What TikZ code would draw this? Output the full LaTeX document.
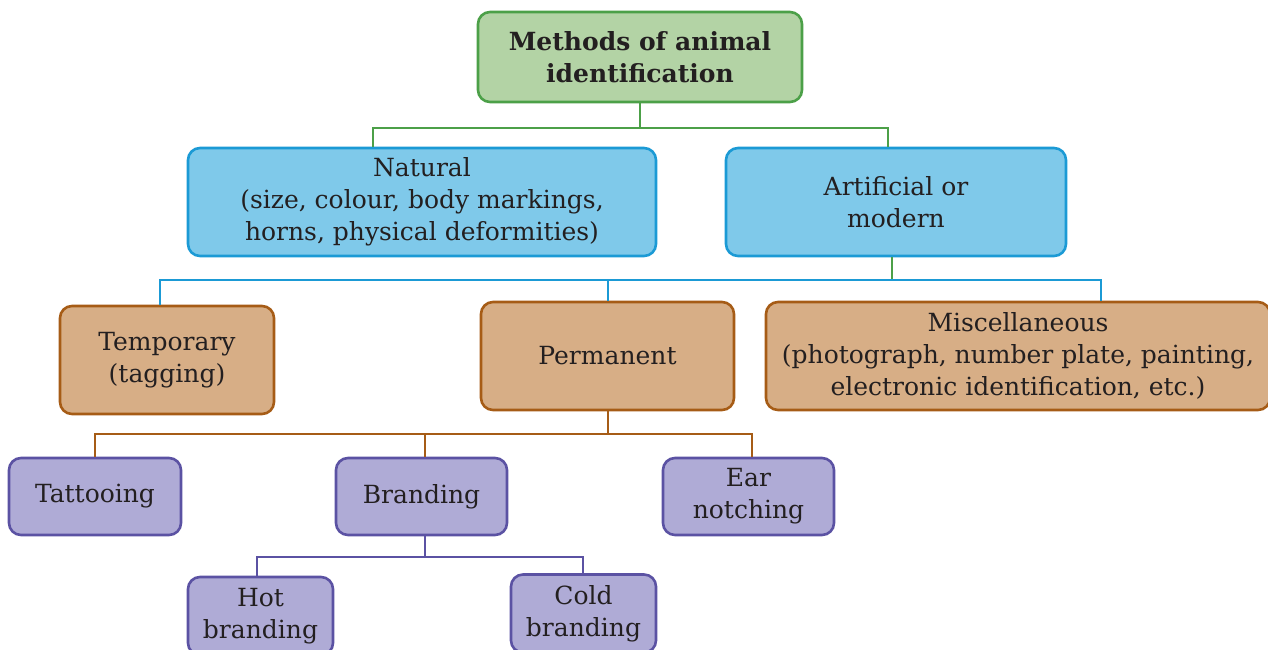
\documentclass[tikz,border=0pt]{standalone}
\usepackage{fontspec}
\setmainfont{DejaVu Serif}
\usetikzlibrary{calc}
\definecolor{gfill}{HTML}{B3D3A5}
\definecolor{gdraw}{HTML}{4CA048}
\definecolor{bfill}{HTML}{7FC9EA}
\definecolor{bdraw}{HTML}{1B9AD5}
\definecolor{tfill}{HTML}{D7AE86}
\definecolor{tdraw}{HTML}{A65C16}
\definecolor{pfill}{HTML}{AFABD6}
\definecolor{pdraw}{HTML}{5B52A3}
\definecolor{txt}{HTML}{231F20}
\tikzset{
  box/.style={rounded corners=12pt, line width=2.6pt, align=center, inner sep=0pt,
    text=txt, font=\fontsize{25}{32}\selectfont},
  gbox/.style={box, fill=gfill, draw=gdraw},
  bbox/.style={box, fill=bfill, draw=bdraw},
  tbox/.style={box, fill=tfill, draw=tdraw},
  pbox/.style={box, fill=pfill, draw=pdraw},
  gline/.style={draw=gdraw, line width=1.5pt},
  bline/.style={draw=bdraw, line width=1.5pt},
  tline/.style={draw=tdraw, line width=1.5pt},
  pline/.style={draw=pdraw, line width=1.5pt},
}
\begin{document}
\begin{tikzpicture}[x=1pt,y=-1pt]
\useasboundingbox (0,0) rectangle (1268,649);
% boxes
\node[gbox, minimum width=324, minimum height=90] (root) at (640,57)
  {\bfseries Methods of animal\\\bfseries identification};
\node[bbox, minimum width=468, minimum height=108] (nat) at (422,202)
  {Natural\\(size, colour, body markings,\\horns, physical deformities)};
\node[bbox, minimum width=340, minimum height=108] (art) at (896,202)
  {Artificial or\\modern};
\node[tbox, minimum width=214, minimum height=108] (temp) at (167,360)
  {Temporary\\(tagging)};
\node[tbox, minimum width=253, minimum height=108] (perm) at (607.5,356)
  {Permanent};
\node[tbox, minimum width=504, minimum height=108] (misc) at (1018,356)
  {Miscellaneous\\(photograph, number plate, painting,\\electronic identification, etc.)};
\node[pbox, minimum width=172, minimum height=77] (tat) at (95,496.5)
  {Tattooing};
\node[pbox, minimum width=171, minimum height=77] (brand) at (421.5,496.5)
  {Branding};
\node[pbox, minimum width=171, minimum height=77] (ear) at (748.5,496.5)
  {Ear\\notching};
\node[pbox, minimum width=145, minimum height=78] (hot) at (260.5,616)
  {Hot\\branding};
\node[pbox, minimum width=145, minimum height=78] (cold) at (583.5,613.5)
  {Cold\\branding};
% connectors
\coordinate (j1) at (640,128);
\coordinate (natin) at ($(nat.north)+(-49,0)$);
\coordinate (artin) at ($(art.north)+(-8,0)$);
\draw[gline] (root.south) -- (j1);
\draw[gline] (natin) |- (j1) -| (artin);
\coordinate (j2) at (892,280);
\coordinate (artout) at ($(art.south)+(-4,0)$);
\coordinate (tempin) at ($(temp.north)+(-7,0)$);
\coordinate (permin) at ($(perm.north)+(0.5,0)$);
\coordinate (miscin) at ($(misc.north)+(83,0)$);
\draw[gline] (artout) -- (j2);
\draw[bline] (tempin) |- (j2) -| (miscin);
\draw[bline] (permin) -- (permin |- j2);
\coordinate (j3) at (608,434);
\coordinate (permout) at ($(perm.south)+(0.5,0)$);
\coordinate (brandin) at ($(brand.north)+(3.5,0)$);
\coordinate (earin) at ($(ear.north)+(3.5,0)$);
\draw[tline] (permout) -- (j3);
\draw[tline] (tat.north) |- (j3) -| (earin);
\draw[tline] (brandin) -- (brandin |- j3);
\coordinate (j4) at (425,557);
\coordinate (brandout) at ($(brand.south)+(3.5,0)$);
\coordinate (hotin) at ($(hot.north)+(-3.5,0)$);
\coordinate (coldin) at ($(cold.north)+(-0.5,0)$);
\draw[pline] (brandout) -- (j4);
\draw[pline] (hotin) |- (j4) -| (coldin);
\end{tikzpicture}
\end{document}
